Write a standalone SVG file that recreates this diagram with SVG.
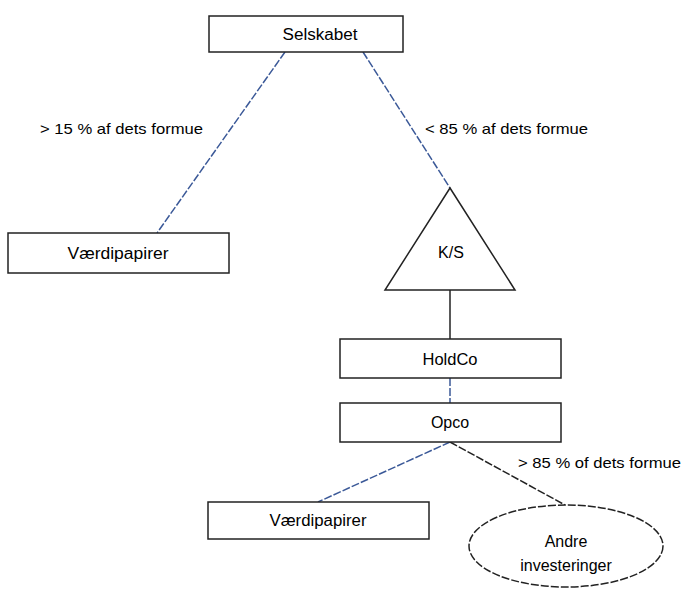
<svg xmlns="http://www.w3.org/2000/svg" width="683" height="590" viewBox="0 0 683 590">
<style>
.box{fill:#fff;stroke:#222;stroke-width:1.5}
.t{font-family:"Liberation Sans",Arial,sans-serif;font-size:16px;fill:#000;text-anchor:middle}
.l{font-family:"Liberation Sans",Arial,sans-serif;font-size:15px;fill:#000}
.blue{stroke:#3b5998;stroke-width:1.5;stroke-dasharray:8 2;fill:none}
.blk{stroke:#222;stroke-width:1.5;fill:none}
.blkd{stroke:#222;stroke-width:1.5;stroke-dasharray:8 2;fill:none}
</style>
<rect width="683" height="590" fill="#fff"/>
<g id="connectors">
<line class="blue" x1="285" y1="52" x2="157" y2="233"/>
<line class="blue" x1="363" y1="52" x2="450" y2="188"/>
<line class="blk" x1="450" y1="290" x2="450" y2="339"/>
<line class="blue" x1="450" y1="378" x2="450" y2="403"/>
<line class="blue" x1="450" y1="442" x2="318" y2="502"/>
<line class="blkd" x1="450" y1="442" x2="565" y2="505"/>
</g>
<g id="labels">
<text class="l" x="40" y="134" textLength="163" lengthAdjust="spacingAndGlyphs">&gt; 15 % af dets formue</text>
<text class="l" x="425" y="134" textLength="163" lengthAdjust="spacingAndGlyphs">&lt; 85 % af dets formue</text>
<text class="l" x="518" y="468" textLength="163" lengthAdjust="spacingAndGlyphs">&gt; 85 % of dets formue</text>
</g>
<g id="selskabet">
<rect class="box" x="209" y="16" width="194" height="36"/>
<text class="t" x="320" y="40" textLength="75" lengthAdjust="spacingAndGlyphs">Selskabet</text>
</g>
<g id="vaerdipapirer1">
<rect class="box" x="8" y="233" width="221" height="40"/>
<text class="t" x="118" y="259" textLength="101" lengthAdjust="spacingAndGlyphs">Værdipapirer</text>
</g>
<g id="ks">
<polygon class="box" points="450,188 385,290 515,290"/>
<text class="t" x="451" y="258">K/S</text>
</g>
<g id="holdco">
<rect class="box" x="340" y="339" width="221" height="39"/>
<text class="t" x="450" y="365" textLength="55" lengthAdjust="spacingAndGlyphs">HoldCo</text>
</g>
<g id="opco">
<rect class="box" x="340" y="403" width="221" height="39"/>
<text class="t" x="450" y="428">Opco</text>
</g>
<g id="vaerdipapirer2">
<rect class="box" x="208" y="502" width="221" height="37"/>
<text class="t" x="318" y="526" textLength="97" lengthAdjust="spacingAndGlyphs">Værdipapirer</text>
</g>
<g id="andre">
<ellipse class="blkd" cx="566" cy="546" rx="97" ry="41" style="fill:#fff"/>
<text class="t" x="566" y="547">Andre</text>
<text class="t" x="566" y="571">investeringer</text>
</g>
</svg>
